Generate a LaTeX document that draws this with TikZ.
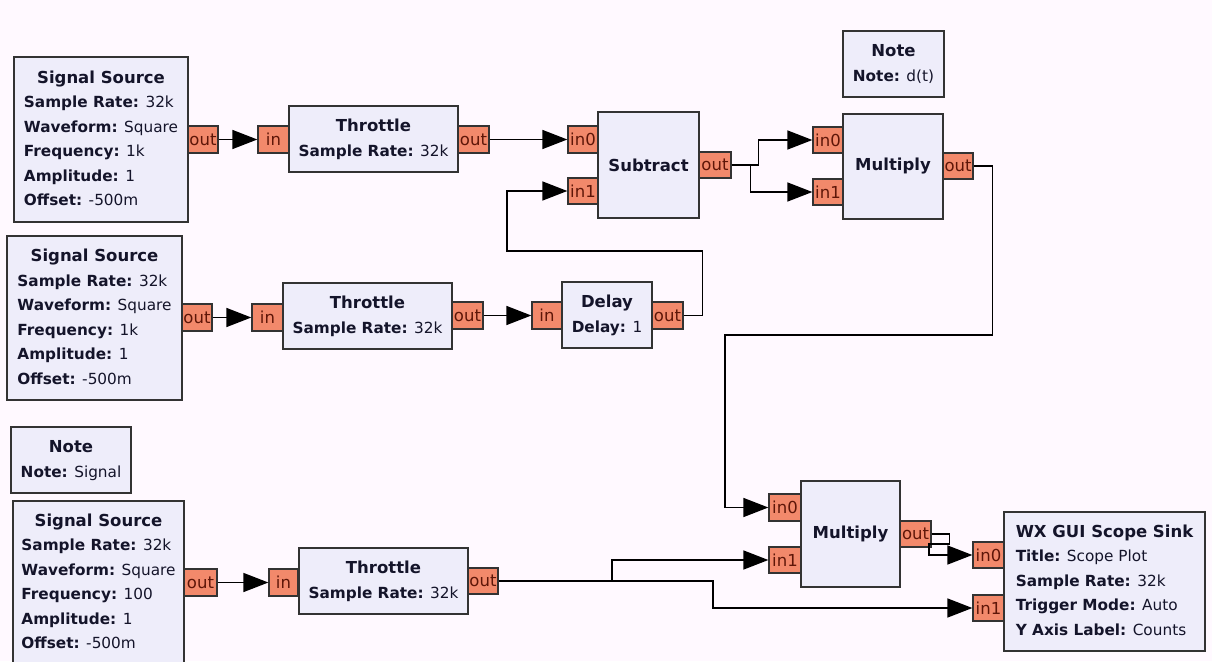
\documentclass[tikz,border=0pt]{standalone}
\usepackage{fontspec}
\setmainfont{DejaVu Sans}
\usetikzlibrary{arrows.meta}
\definecolor{bg}{HTML}{FFF9FF}
\definecolor{blockfill}{HTML}{EEEDFA}
\definecolor{portfill}{HTML}{F2896B}
\definecolor{edgecol}{HTML}{333333}
\definecolor{txt}{HTML}{14142A}
\definecolor{porttxt}{HTML}{5E1608}
\newcommand\ttl[1]{{\fontsize{16.5}{24.5}\selectfont\bfseries #1}}
\newcommand\kv[2]{\textbf{#1:} #2}
\newcommand\blocktext[2]{\begin{tabular}{@{}l@{}}\multicolumn{1}{@{}c@{}}{\ttl{#1}}\\ #2\end{tabular}}
\newcommand\Blk[6]{\node[block, minimum width={(#4-#2)*1pt}, minimum height={(#5-#3)*1pt}] (#1) at ({(#2+#4)/2},{(#3+#5)/2}) {#6};}
\newcommand\Prt[6]{\node[port, minimum width={(#4-#2)*1pt}, minimum height={(#5-#3)*1pt}] (#1) at ({(#2+#4)/2},{(#3+#5)/2}) {#6};}
\tikzset{
  block/.style={draw=edgecol, fill=blockfill, line width=1.5pt, inner sep=0pt, text=txt,
    font=\fontsize{15.3}{24.5}\selectfont},
  port/.style={draw=edgecol, fill=portfill, line width=1.3pt, inner sep=0pt, text=porttxt,
    font=\fontsize{16.5}{16.5}\selectfont},
  wire/.style={draw=black, line width=1.5pt},
  arr/.style={wire, -{Triangle[length=25pt,width=19pt]}}
}
\begin{document}
\begin{tikzpicture}[x=1pt,y=-1pt]
\useasboundingbox (0,0) rectangle (1212,661);
\clip (0,0) rectangle (1212,661);
\fill[bg] (0,0) rectangle (1212,661);
% blocks
\Blk{src1}{14}{57}{188}{222}{\blocktext{Signal Source}{\kv{Sample Rate}{32k}\\ \kv{Waveform}{Square}\\ \kv{Frequency}{1k}\\ \kv{Amplitude}{1}\\ \kv{Offset}{-500m}}}
\Blk{thr1}{289}{106}{458}{172}{\blocktext{Throttle}{\kv{Sample Rate}{32k}}}
\Blk{sub}{598}{112}{699}{218}{\ttl{Subtract}}
\Blk{mul1}{843}{114}{943}{219}{\ttl{Multiply}}
\Blk{note1}{843}{31}{944}{97}{\blocktext{Note}{\kv{Note}{d(t)}}}
\Blk{src2}{7}{236}{182}{400}{\blocktext{Signal Source}{\kv{Sample Rate}{32k}\\ \kv{Waveform}{Square}\\ \kv{Frequency}{1k}\\ \kv{Amplitude}{1}\\ \kv{Offset}{-500m}}}
\Blk{thr2}{283}{283}{452}{349}{\blocktext{Throttle}{\kv{Sample Rate}{32k}}}
\Blk{delay}{562}{282}{652}{348}{\blocktext{Delay}{\kv{Delay}{1}}}
\Blk{note2}{11}{427}{131}{493}{\blocktext{Note}{\kv{Note}{Signal}}}
\Blk{src3}{13}{501}{184}{664}{\blocktext{Signal Source}{\kv{Sample Rate}{32k}\\ \kv{Waveform}{Square}\\ \kv{Frequency}{100}\\ \kv{Amplitude}{1}\\ \kv{Offset}{-500m}}}
\Blk{thr3}{299}{548}{468}{614}{\blocktext{Throttle}{\kv{Sample Rate}{32k}}}
\Blk{mul2}{801}{481}{900}{587}{\ttl{Multiply}}
\Blk{scope}{1004}{512}{1205}{651}{\blocktext{WX GUI Scope Sink}{\kv{Title}{Scope Plot}\\ \kv{Sample Rate}{32k}\\ \kv{Trigger Mode}{Auto}\\ \kv{Y Axis Label}{Counts}}}
% ports
\Prt{s1o}{188}{126}{218}{153}{out}
\Prt{t1i}{258}{126}{289}{153}{in}
\Prt{t1o}{458}{126}{489}{153}{out}
\Prt{sbi0}{568}{126}{598}{153}{in0}
\Prt{sbi1}{568}{178}{598}{204}{in1}
\Prt{sbo}{699}{152}{731}{178}{out}
\Prt{m1i0}{813}{127}{843}{153}{in0}
\Prt{m1i1}{813}{179}{843}{205}{in1}
\Prt{m1o}{943}{153}{973}{179}{out}
\Prt{s2o}{182}{304}{212}{331}{out}
\Prt{t2i}{252}{304}{283}{331}{in}
\Prt{t2o}{452}{302}{483}{329}{out}
\Prt{dli}{532}{302}{562}{329}{in}
\Prt{dlo}{652}{302}{683}{329}{out}
\Prt{s3o}{184}{569}{217}{596}{out}
\Prt{t3i}{269}{569}{298}{596}{in}
\Prt{t3o}{468}{568}{498}{594}{out}
\Prt{m2i0}{769}{494}{801}{521}{in0}
\Prt{m2i1}{769}{547}{801}{573}{in1}
\Prt{m2o}{900}{521}{931}{547}{out}
\Prt{sci0}{973}{542}{1004}{568}{in0}
\Prt{sci1}{973}{595}{1004}{621}{in1}
% connections
\draw[arr] (s1o.east) -- (t1i.west);
\draw[arr] (t1o.east) -- (sbi0.west);
\draw[arr] (sbo.east) -- ++(27,0) |- (m1i0.west);
\draw[arr] (sbo.east) -- ++(19,0) |- (m1i1.west);
\draw[arr] (dlo.east) -- ++(19,0) |- (507,251) |- (sbi1.west);
\draw[arr] (m1o.east) -- ++(19,0) |- (725,335) |- (m2i0.west);
\draw[arr] (s2o.east) -- (t2i.west);
\draw[arr] (t2o.east) -- (dli.west);
\draw[arr] (s3o.east) -- (t3i.west);
\draw[arr] (t3o.east) -- (612,581) |- (m2i1.west);
\draw[arr] (t3o.east) -- (713,581) |- (sci1.west);
\draw[arr] (m2o.east) -- ++(18,0) |- (929,544) |- (sci0.west);
\end{tikzpicture}
\end{document}
